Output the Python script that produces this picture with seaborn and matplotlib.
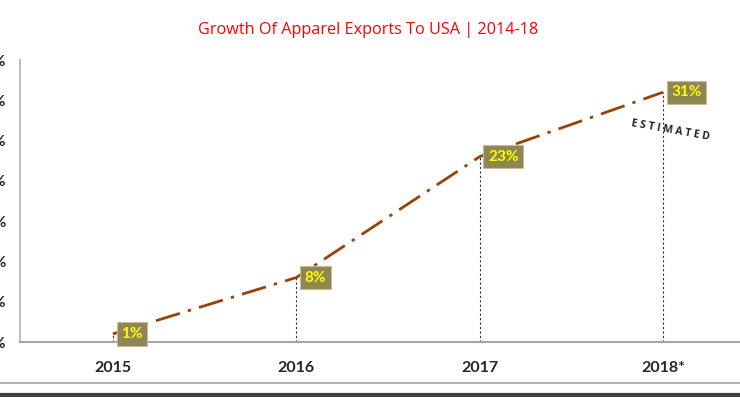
import matplotlib
matplotlib.use("Agg")
import matplotlib.pyplot as plt
import seaborn as sns
import pandas as pd
from matplotlib.lines import Line2D

years = ["2015", "2016", "2017", "2018*"]
growth = [1, 8, 23, 31]
yticks = [0, 5, 10, 15, 20, 25, 30, 35]
title = "Growth Of Apparel Exports To USA | 2014-18"
note = "E S T I M A T E D"

sns.set_style("white")
plt.rcParams["font.family"] = ["Lato", "DejaVu Sans"]

df = pd.DataFrame({"pos": list(range(len(years))), "growth": growth})

fig = plt.figure(figsize=(7.4, 3.97), dpi=100)
ax = fig.add_axes([20 / 740, 55 / 397, 720 / 740, 282 / 397])

sns.lineplot(data=df, x="pos", y="growth", ax=ax, color="#9C4105",
             linewidth=2, linestyle=(0, (9, 3, 1.2, 3)))

for x, v in zip(df["pos"], df["growth"]):
    ax.plot([x, x], [0, v], color="#333333", linestyle=(0, (2, 2)), linewidth=0.8)
    ax.annotate(f"{v}%", xy=(x, v), xytext=(6, 0), textcoords="offset points",
                ha="left", va="center", fontsize=11, fontweight="bold", color="#FFFF00",
                bbox=dict(boxstyle="square,pad=0.3", fc="#8F8652", ec="#C4BD97", lw=0.8))

ax.set_xlim(-0.507, 3.42)
ax.set_ylim(0, 35)
ax.set_xticks(df["pos"])
ax.set_xticklabels(years, fontsize=11.5, fontweight="bold")
ax.set_yticks(yticks)
ax.set_yticklabels([f"{t}%" for t in yticks], fontsize=11, fontweight="bold")
ax.tick_params(axis="x", length=0, pad=14)
ax.tick_params(axis="y", length=3.5, width=1, color="#BFBFBF", direction="out", pad=6.5)
ax.set_xlabel("")
ax.set_ylabel("")
for s in ["top", "right"]:
    ax.spines[s].set_visible(False)
ax.spines["left"].set_color("#BFBFBF")
ax.spines["left"].set_linewidth(1.5)
ax.spines["bottom"].set_color("#A6A6A6")
ax.spines["bottom"].set_linewidth(1.5)

ax.text(3.04, 26.3, note, fontsize=7.5, fontweight="bold", color="#222222",
        rotation=-10, ha="center", va="center", family=["Open Sans", "DejaVu Sans"])
fig.text(368 / 740, 1 - 30 / 397, title, ha="center", va="center",
         color="#FF0000", fontsize=11.7, family=["Open Sans", "DejaVu Sans"])

fig.add_artist(Line2D([0, 1], [1 - 383 / 397, 1 - 383 / 397], color="#A6A6A6", lw=1.2,
                      transform=fig.transFigure))
fig.add_artist(Line2D([0, 1], [1 - 395 / 397, 1 - 395 / 397], color="#404040", lw=3,
                      transform=fig.transFigure))

fig.savefig("out.png", dpi=100)
